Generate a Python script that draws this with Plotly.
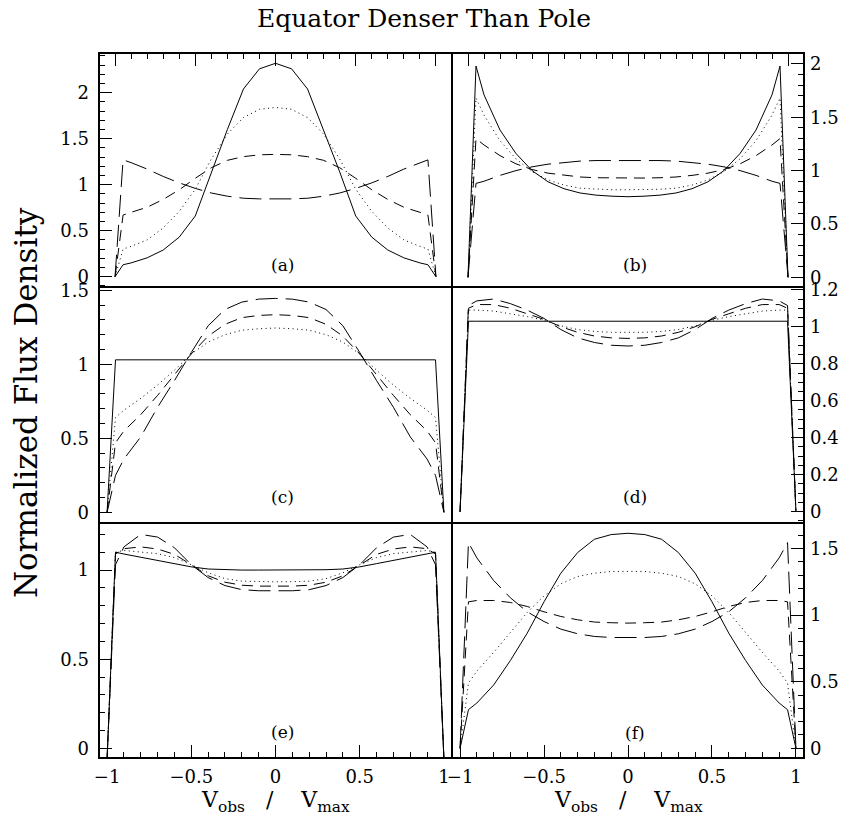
import plotly.graph_objects as go

# ---------------- data ----------------
X_V = [-1, -0.95, -0.9, -0.8, -0.7, -0.6, -0.5, -0.4, -0.3, -0.2, -0.1, 0,
       0.1, 0.2, 0.3, 0.4, 0.5, 0.6, 0.7, 0.8, 0.9, 0.95, 1]

A_SOLID = [0, 0.13, 0.15, 0.205, 0.29, 0.43, 0.66, 1.14, 1.60, 2.04, 2.26, 2.32, 2.26, 2.04, 1.60, 1.14, 0.66, 0.43, 0.29, 0.205, 0.15, 0.13, 0]
A_DOT = [0, 0.30, 0.33, 0.40, 0.53, 0.71, 0.95, 1.28, 1.55, 1.73, 1.82, 1.84, 1.82, 1.73, 1.55, 1.28, 0.95, 0.71, 0.53, 0.40, 0.33, 0.30, 0]
A_DASH = [0, 0.67, 0.70, 0.755, 0.84, 0.945, 1.07, 1.185, 1.265, 1.305, 1.325, 1.33, 1.325, 1.305, 1.265, 1.185, 1.07, 0.945, 0.84, 0.755, 0.70, 0.67, 0]
A_LONG = [0, 1.27, 1.24, 1.17, 1.09, 1.02, 0.96, 0.91, 0.875, 0.853, 0.846, 0.845, 0.846, 0.853, 0.875, 0.91, 0.96, 1.02, 1.09, 1.17, 1.24, 1.27, 0]

B_SOLID = [0, 1.98, 1.71, 1.38, 1.16, 1.0, 0.895, 0.83, 0.79, 0.77, 0.76, 0.755, 0.76, 0.77, 0.79, 0.83, 0.895, 1.0, 1.16, 1.38, 1.71, 1.98, 0]
B_DOT = [0, 1.68, 1.52, 1.28, 1.11, 0.99, 0.913, 0.864, 0.835, 0.825, 0.82, 0.82, 0.82, 0.825, 0.835, 0.864, 0.913, 0.99, 1.11, 1.28, 1.52, 1.68, 0]
B_DASH = [0, 1.30, 1.24, 1.14, 1.063, 1.01, 0.976, 0.955, 0.94, 0.933, 0.93, 0.93, 0.93, 0.933, 0.94, 0.955, 0.976, 1.01, 1.063, 1.14, 1.24, 1.30, 0]
B_LONG = [0, 0.88, 0.90, 0.955, 1.0, 1.035, 1.06, 1.078, 1.089, 1.094, 1.095, 1.095, 1.095, 1.094, 1.089, 1.078, 1.06, 1.035, 1.0, 0.955, 0.90, 0.88, 0]

C_SOLID = [0, 1.03, 1.03, 1.03, 1.03, 1.03, 1.03, 1.03, 1.03, 1.03, 1.03, 1.03, 1.03, 1.03, 1.03, 1.03, 1.03, 1.03, 1.03, 1.03, 1.03, 1.03, 0]
C_DOT = [0, 0.64, 0.69, 0.77, 0.86, 0.96, 1.07, 1.15, 1.20, 1.23, 1.24, 1.245, 1.24, 1.23, 1.20, 1.15, 1.07, 0.96, 0.86, 0.77, 0.69, 0.64, 0]
C_DASH = [0, 0.47, 0.55, 0.66, 0.79, 0.93, 1.07, 1.19, 1.27, 1.315, 1.33, 1.335, 1.33, 1.315, 1.27, 1.19, 1.07, 0.93, 0.79, 0.66, 0.55, 0.47, 0]
C_LONG = [0, 0.25, 0.36, 0.51, 0.71, 0.89, 1.08, 1.26, 1.37, 1.42, 1.44, 1.445, 1.44, 1.42, 1.37, 1.26, 1.08, 0.89, 0.71, 0.51, 0.36, 0.25, 0]

D_SOLID = [0, 1.03, 1.03, 1.03, 1.03, 1.03, 1.03, 1.03, 1.03, 1.03, 1.03, 1.03, 1.03, 1.03, 1.03, 1.03, 1.03, 1.03, 1.03, 1.03, 1.03, 1.03, 0]
D_DOT = [0, 1.09, 1.09, 1.085, 1.07, 1.055, 1.035, 1.005, 0.985, 0.975, 0.97, 0.968, 0.97, 0.975, 0.985, 1.005, 1.035, 1.055, 1.07, 1.085, 1.09, 1.09, 0]
D_DASH = [0, 1.10, 1.12, 1.12, 1.10, 1.07, 1.04, 1.0, 0.97, 0.95, 0.94, 0.937, 0.94, 0.95, 0.97, 1.0, 1.04, 1.07, 1.10, 1.12, 1.12, 1.10, 0]
D_LONG = [0, 1.115, 1.14, 1.15, 1.125, 1.09, 1.045, 0.985, 0.94, 0.915, 0.90, 0.896, 0.90, 0.915, 0.94, 0.985, 1.045, 1.09, 1.125, 1.15, 1.14, 1.115, 0]

E_SOLID = [-0.06, 1.10, 1.09, 1.072, 1.055, 1.036, 1.018, 1.006, 1.002, 1.0, 1.0, 1.0, 1.0, 1.0, 1.002, 1.006, 1.018, 1.036, 1.055, 1.072, 1.09, 1.10, -0.06]
E_DOT = [-0.06, 1.10, 1.11, 1.10, 1.092, 1.07, 1.03, 0.985, 0.952, 0.938, 0.935, 0.934, 0.935, 0.938, 0.952, 0.985, 1.03, 1.07, 1.092, 1.10, 1.11, 1.10, -0.06]
E_DASH = [-0.06, 1.09, 1.12, 1.13, 1.118, 1.088, 1.03, 0.968, 0.932, 0.915, 0.91, 0.908, 0.91, 0.915, 0.932, 0.968, 1.03, 1.088, 1.118, 1.13, 1.12, 1.09, -0.06]
E_LONG = [-0.06, 1.03, 1.13, 1.20, 1.185, 1.125, 1.03, 0.958, 0.913, 0.89, 0.884, 0.882, 0.884, 0.89, 0.913, 0.958, 1.03, 1.125, 1.185, 1.20, 1.13, 1.03, -0.06]

F_SOLID = [0, 0.29, 0.34, 0.475, 0.66, 0.865, 1.10, 1.315, 1.47, 1.57, 1.605, 1.615, 1.605, 1.57, 1.47, 1.315, 1.10, 0.865, 0.66, 0.475, 0.34, 0.29, 0]
F_DOT = [0, 0.49, 0.58, 0.72, 0.87, 1.02, 1.145, 1.235, 1.29, 1.315, 1.328, 1.33, 1.328, 1.315, 1.29, 1.235, 1.145, 1.02, 0.87, 0.72, 0.58, 0.49, 0]
F_DASH = [0, 1.10, 1.11, 1.11, 1.095, 1.065, 1.025, 0.99, 0.965, 0.948, 0.943, 0.94, 0.943, 0.948, 0.965, 0.99, 1.025, 1.065, 1.095, 1.11, 1.11, 1.10, 0]
F_LONG = [0, 1.545, 1.43, 1.26, 1.13, 1.025, 0.952, 0.895, 0.86, 0.84, 0.832, 0.83, 0.832, 0.84, 0.86, 0.895, 0.952, 1.025, 1.13, 1.26, 1.43, 1.545, 0]

PANEL_LABELS = ["(a)", "(b)", "(c)", "(d)", "(e)", "(f)"]
TITLE = "Equator Denser Than Pole"
Y_TITLE = "Normalized Flux Density"
X_TITLE = "V<sub>obs</sub>\u00a0\u00a0\u00a0/\u00a0\u00a0\u00a0\u00a0V<sub>max</sub>"

PANEL_SERIES = [
    (A_SOLID, A_DOT, A_DASH, A_LONG),
    (B_SOLID, B_DOT, B_DASH, B_LONG),
    (C_SOLID, C_DOT, C_DASH, C_LONG),
    (D_SOLID, D_DOT, D_DASH, D_LONG),
    (E_SOLID, E_DOT, E_DASH, E_LONG),
    (F_SOLID, F_DOT, F_DASH, F_LONG),
]

# ---------------- layout / style ----------------
VW, VH = 850, 835          # browser window
BODY = 8                   # default page margin around the plot div
W, H = VW - BODY, VH - BODY
FONT = "DejaVu Serif"
DASHES = ["solid", "1px,3.5px", "11px,7px", "22px,8px"]

COLS = [(99, 452), (452, 804)]
ROWS = [(53, 287), (287, 523), (523, 758)]
X_RANGES = [[-1.1, 1.1], [-1.048, 1.048], [-1.048, 1.048]]
Y_RANGES = [[-0.112, 2.432], [-0.091, 2.102],
            [-0.072, 1.522], [-0.061, 1.215],
            [-0.054, 1.264], [-0.073, 1.692]]
Y_DTICK = [(0.5, 0.1), (0.5, 0.1), (0.5, 0.1), (0.2, 0.05), (0.5, 0.1), (0.5, 0.1)]
LABEL_Y = [0.094, 0.094, 0.11, 0.11, 0.112, 0.105]


def fx(p):
    return (p - BODY) / W


def fy(p):
    return (VH - p) / H


fig = go.Figure()
layout = dict(
    template="none",
    width=W, height=H,
    margin=dict(l=0, r=0, t=0, b=0, pad=0, autoexpand=False),
    paper_bgcolor="white", plot_bgcolor="white",
    showlegend=False,
    font=dict(family=FONT, color="black", size=16),
)
annotations = []
shapes = []

for i in range(6):
    row, col = divmod(i, 2)
    n = i + 1
    xa = "xaxis" if n == 1 else f"xaxis{n}"
    ya = "yaxis" if n == 1 else f"yaxis{n}"
    xr = "x" if n == 1 else f"x{n}"
    yr = "y" if n == 1 else f"y{n}"

    for series, dash in zip(PANEL_SERIES[i], DASHES):
        fig.add_trace(go.Scatter(
            x=X_V, y=series, mode="lines", xaxis=xr, yaxis=yr,
            line=dict(color="black", width=1, dash=dash),
            hoverinfo="skip"))

    x0, x1 = COLS[col]
    y0, y1 = ROWS[row]

    minor_x = dict(ticks="inside", dtick=0.1, tick0=0, ticklen=6,
                   tickcolor="black", tickwidth=1, showgrid=False)
    xcfg = dict(
        domain=[fx(x0), fx(x1)], range=X_RANGES[row], anchor=yr,
        automargin=False,
        showgrid=False, zeroline=False, showline=False,
        tickcolor="black", tickwidth=1, dtick=0.5, tick0=0, ticklen=13,
    )
    if row == 0:
        xcfg.update(side="top", ticks="inside", showticklabels=False,
                    minor=minor_x)
    elif row == 1:
        xcfg.update(ticks="", showticklabels=False)
    else:
        xcfg.update(side="bottom", ticks="inside", showticklabels=True,
                    ticklabelstandoff=6,
                    tickfont=dict(family=FONT, size=18, color="black"),
                    minor=minor_x)

    dmaj, dmin = Y_DTICK[i]
    ycfg = dict(
        domain=[fy(y1), fy(y0)], range=Y_RANGES[i], anchor=xr,
        automargin=False,
        showgrid=False, zeroline=False, showline=False,
        ticks="inside", tickcolor="black",
        tickwidth=1, ticklen=13, dtick=dmaj, tick0=0,
        side="left" if col == 0 else "right",
        ticklabelstandoff=9 if col == 0 else 5,
        tickfont=dict(family=FONT, size=18, color="black"),
        minor=dict(ticks="inside", dtick=dmin, tick0=0, ticklen=6,
                   tickcolor="black", tickwidth=1, showgrid=False),
    )
    layout[xa] = xcfg
    layout[ya] = ycfg

    shapes.append(dict(type="rect", xref="paper", yref="paper",
                       x0=fx(x0), x1=fx(x1), y0=fy(y1), y1=fy(y0),
                       line=dict(color="black", width=2), layer="above"))

    annotations.append(dict(
        text=PANEL_LABELS[i], xref=f"{xr} domain", yref=f"{yr} domain",
        x=0.52, y=LABEL_Y[i], xanchor="center", yanchor="middle",
        showarrow=False, font=dict(family=FONT, size=17, color="black")))

annotations.append(dict(
    text=TITLE, xref="paper", yref="paper", x=fx(424), y=fy(19),
    xanchor="center", yanchor="middle", showarrow=False,
    font=dict(family=FONT, size=25, color="black")))
annotations.append(dict(
    text=Y_TITLE, xref="paper", yref="paper", x=fx(26), y=fy(403),
    xanchor="center", yanchor="middle", showarrow=False, textangle=-90,
    font=dict(family=FONT, size=31, color="black")))
for cx in (275, 628):
    annotations.append(dict(
        text=X_TITLE, xref="paper", yref="paper", x=fx(cx), y=fy(801),
        xanchor="center", yanchor="middle", showarrow=False,
        font=dict(family=FONT, size=22, color="black")))

layout["annotations"] = annotations
layout["shapes"] = shapes
fig.update_layout(**layout)
fig.write_html("out.html")
